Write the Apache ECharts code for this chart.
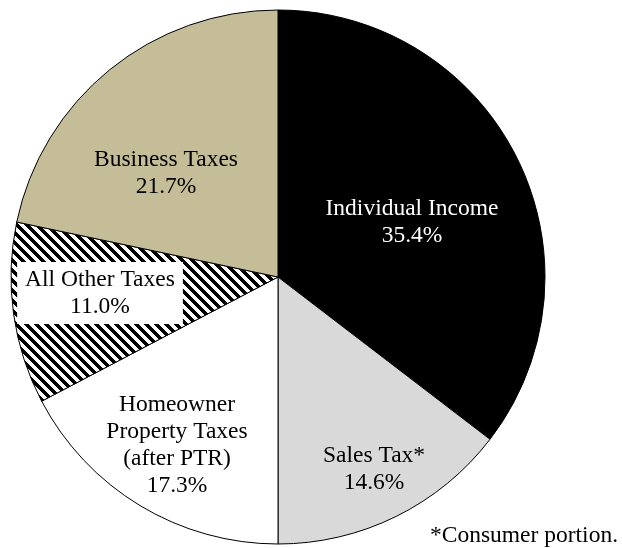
<!DOCTYPE html>
<html>
<head>
<meta charset="utf-8">
<script src="https://cdn.jsdelivr.net/npm/echarts@6/dist/echarts.min.js"></script>
<style>
html,body{margin:0;padding:0;background:#fff;}
#chart{width:622px;height:548px;}
</style>
</head>
<body>
<div id="chart"></div>
<script>
// Data
var categories = ['Individual Income', 'Sales Tax*', 'Homeowner\nProperty Taxes\n(after PTR)', 'All Other Taxes', 'Business Taxes'];
var values = [35.4, 14.6, 17.3, 11.0, 21.7];
var footnote = '*Consumer portion.';

// Styles
var FONT = 'Liberation Serif';
var FSIZE = 23.5;
var sliceColors = ['#000000', '#d9d9d9', '#ffffff', 'HATCH', '#c4bd97'];
var labelColors = ['#ffffff', '#000000', '#000000', '#000000', '#000000'];
var labelCenters = [[412, 222], [374, 469], [177, 445], [100, 293], [166, 173]];

function makeHatch() {
  var n = 10, c = document.createElement('canvas');
  c.width = n; c.height = n;
  var ctx = c.getContext('2d');
  ctx.fillStyle = '#fff'; ctx.fillRect(0, 0, n, n);
  ctx.fillStyle = '#000';
  for (var y = 0; y < n; y++) for (var x = 0; x < n; x++) {
    if ((((x - y) % n) + n) % n < 5) ctx.fillRect(x, y, 1, 1);
  }
  return c;
}
var hatch = makeHatch();

var data = categories.map(function (name, i) {
  var item = {
    name: name,
    value: values[i],
    itemStyle: { color: sliceColors[i] === 'HATCH' ? { image: hatch, repeat: 'repeat' } : sliceColors[i] },
    label: { color: labelColors[i] }
  };
  if (sliceColors[i] === 'HATCH') {
    item.label.backgroundColor = '#ffffff';
    item.label.padding = [5, 8, 3, 8];
  }
  return item;
});

var chart = echarts.init(document.getElementById('chart'), null, { renderer: 'canvas' });
chart.setOption({
  animation: false,
  backgroundColor: '#ffffff',
  graphic: [{
    type: 'text',
    right: 4,
    top: 524,
    style: { text: footnote, fontFamily: FONT, fontSize: FSIZE, fill: '#000' }
  }],
  series: [{
    type: 'pie',
    center: [278, 277],
    radius: 267,
    startAngle: 90,
    clockwise: true,
    avoidLabelOverlap: false,
    silent: true,
    itemStyle: { borderColor: '#000', borderWidth: 1 },
    label: {
      show: true,
      position: 'inside',
      fontFamily: FONT,
      fontSize: FSIZE,
      lineHeight: 27,
      align: 'center',
      verticalAlign: 'middle',
      formatter: function (p) { return p.name + '\n' + p.value.toFixed(1) + '%'; }
    },
    labelLine: { show: false },
    labelLayout: function (p) {
      var c = labelCenters[p.dataIndex];
      return { x: c[0], y: c[1], align: 'center', verticalAlign: 'middle' };
    },
    emphasis: { disabled: true },
    data: data
  }]
});
</script>
</body>
</html>
